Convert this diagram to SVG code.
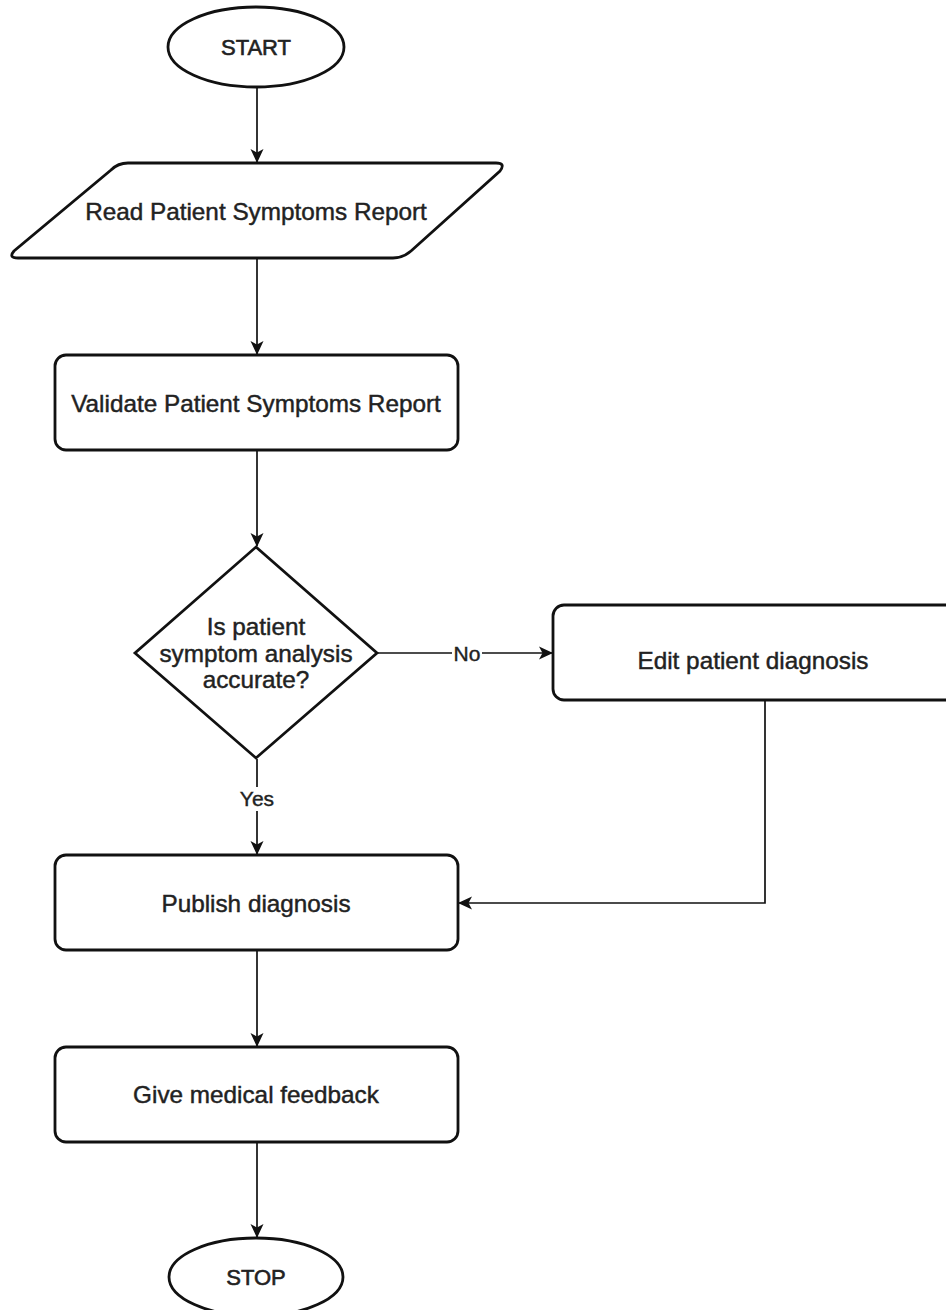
<svg xmlns="http://www.w3.org/2000/svg" width="946" height="1310" viewBox="0 0 946 1310">
  <style>
    .shape { fill: #ffffff; stroke: #111111; stroke-width: 2.8; }
    .edge { fill: none; stroke: #111111; stroke-width: 1.7; }
    .txt { font-family: "Liberation Sans", Arial, sans-serif; font-size: 24.3px; fill: #222222; stroke: #222222; stroke-width: 0.45; text-anchor: middle; }
    .term { font-family: "Liberation Sans", Arial, sans-serif; font-size: 22px; fill: #222222; stroke: #222222; stroke-width: 0.6; text-anchor: middle; }
    .lbl { font-family: "Liberation Sans", Arial, sans-serif; font-size: 21px; fill: #222222; stroke: #222222; stroke-width: 0.4; text-anchor: middle; }
  </style>
  <defs>
    <marker id="arrowL" viewBox="0 0 14 14" refX="13" refY="7" markerWidth="14" markerHeight="14" markerUnits="userSpaceOnUse" orient="auto">
      <path d="M0,0.5 L14,7 L0,13.5 L3.5,7 Z" fill="#111111"/>
    </marker>
  </defs>
  <rect width="946" height="1310" fill="#ffffff"/>

  <!-- connectors -->
  <g id="connectors">
    <line class="edge" x1="257" y1="87" x2="257" y2="162" marker-end="url(#arrowL)"/>
    <line class="edge" x1="257" y1="259" x2="257" y2="354" marker-end="url(#arrowL)"/>
    <line class="edge" x1="257" y1="451" x2="257" y2="546" marker-end="url(#arrowL)"/>
    <line class="edge" x1="378" y1="653" x2="552" y2="653" marker-end="url(#arrowL)"/>
    <line class="edge" x1="257" y1="759" x2="257" y2="854" marker-end="url(#arrowL)"/>
    <polyline class="edge" points="765,701 765,903 459,903" marker-end="url(#arrowL)"/>
    <line class="edge" x1="257" y1="951" x2="257" y2="1046" marker-end="url(#arrowL)"/>
    <line class="edge" x1="257" y1="1143" x2="257" y2="1237" marker-end="url(#arrowL)"/>
    <!-- edge labels -->
    <rect x="452" y="641" width="30" height="24" fill="#ffffff"/>
    <text class="lbl" x="467" y="661">No</text>
    <rect x="238" y="787" width="38" height="24" fill="#ffffff"/>
    <text class="lbl" x="257" y="806">Yes</text>
  </g>

  <g id="start">
    <ellipse class="shape" cx="256" cy="47" rx="88" ry="40"/>
    <text class="term" x="256" y="55">START</text>
  </g>

  <g id="read-report">
    <path class="shape" d="M128,163 L496,163 Q506,163 500,171 L411,251 Q403,258 393,258 L18,258 Q8,258 14,251 L111,170 Q118,163 128,163 Z"/>
    <text class="txt" x="256" y="220">Read Patient Symptoms Report</text>
  </g>

  <g id="validate-report">
    <rect class="shape" x="55" y="355" width="403" height="95" rx="11"/>
    <text class="txt" x="256" y="412">Validate Patient Symptoms Report</text>
  </g>

  <g id="accuracy-check">
    <polygon class="shape" points="256,547 377,653 256,758 135,653"/>
    <text class="txt" x="256" y="635">Is patient</text>
    <text class="txt" x="256" y="662">symptom analysis</text>
    <text class="txt" x="256" y="688">accurate?</text>
  </g>

  <g id="edit-diagnosis">
    <rect class="shape" x="553" y="605" width="420" height="95" rx="11"/>
    <text class="txt" x="753" y="669">Edit patient diagnosis</text>
  </g>

  <g id="publish-diagnosis">
    <rect class="shape" x="55" y="855" width="403" height="95" rx="11"/>
    <text class="txt" x="256" y="912">Publish diagnosis</text>
  </g>

  <g id="medical-feedback">
    <rect class="shape" x="55" y="1047" width="403" height="95" rx="11"/>
    <text class="txt" x="256" y="1103">Give medical feedback</text>
  </g>

  <g id="stop">
    <ellipse class="shape" cx="256" cy="1277" rx="87" ry="39"/>
    <text class="term" x="256" y="1285">STOP</text>
  </g>
</svg>
